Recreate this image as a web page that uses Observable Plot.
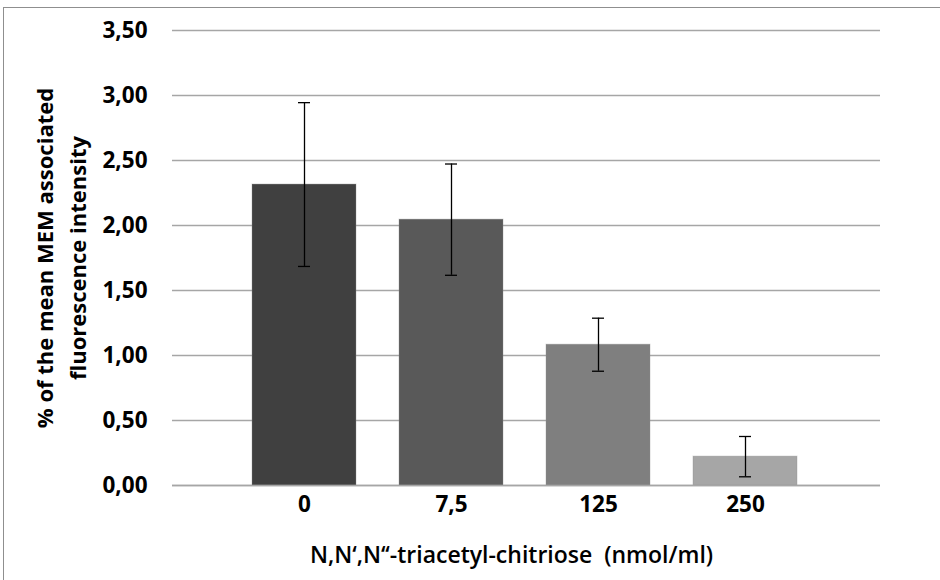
<!DOCTYPE html>
<html>
<head>
<meta charset="utf-8">
<script src="https://cdn.jsdelivr.net/npm/d3@7"></script>
<script src="https://cdn.jsdelivr.net/npm/@observablehq/plot@0.6"></script>
<style>
  html, body { margin: 0; padding: 0; background: white; overflow: hidden; }
  #frame { position: absolute; left: 3px; top: 7px; width: 1200px; height: 1200px; border: 1.5px solid #8f8f8f; }
  #chart { position: absolute; left: 0; top: 0; }
</style>
</head>
<body>
<div id="frame"></div>
<div id="chart"></div>
<script>
const categories = ["0", "7,5", "125", "250"];
const means = [2.315, 2.045, 1.083, 0.222];
const errors = [0.63, 0.428, 0.204, 0.155];
const barColors = ["#404040", "#595959", "#7f7f7f", "#a6a6a6"];
const yTicks = [0, 0.5, 1, 1.5, 2, 2.5, 3, 3.5];
const yLabel = "% of the mean MEM associated\nfluorescence intensity";
const xLabel = "N,N‘,N‘‘-triacetyl-chitriose  (nmol/ml)";

const data = categories.map((c, i) => ({
  cat: c, mean: means[i], lo: means[i] - errors[i], hi: means[i] + errors[i], color: barColors[i]
}));

const font = "'Open Sans', sans-serif";

const chart = Plot.plot({
  width: 940,
  height: 580,
  marginTop: 30,
  marginBottom: 95,
  marginLeft: 172,
  marginRight: 60,
  style: { fontFamily: font, background: "none", color: "#000" },
  x: { domain: categories, paddingInner: 0.294, paddingOuter: 0.54, align: 0.49, label: null },
  y: { domain: [0, 3.5], label: null },
  marks: [
    Plot.ruleY(yTicks, { stroke: "#a6a6a6", strokeWidth: 1.3 }),
    Plot.ruleX([0], { frameAnchor: "left", stroke: "#a6a6a6", strokeWidth: 1.3 }),
    Plot.barY(data, { x: "cat", y: "mean", fill: "color", stroke: "#8a8a8a", strokeOpacity: 0.35, strokeWidth: 1 }),
    Plot.ruleY([0], { stroke: "#a6a6a6", strokeWidth: 1.3 }),
    Plot.ruleX(data, { x: "cat", y1: "lo", y2: "hi", stroke: "#000", strokeWidth: 1.3 }),
    Plot.tickY(data, { x: "cat", y: "hi", stroke: "#000", strokeWidth: 1.3, inset: 46 }),
    Plot.tickY(data, { x: "cat", y: "lo", stroke: "#000", strokeWidth: 1.3, inset: 46 }),
    Plot.axisY(yTicks, {
      tickSize: 0, tickPadding: 25, fontSize: 22.5, fontWeight: "bold",
      tickFormat: d => d.toFixed(2).replace(".", ","), label: null
    }),
    Plot.axisX({ tickSize: 0, tickPadding: 11, fontSize: 22.5, fontWeight: "bold", label: null }),
    Plot.text([yLabel], {
      text: d => d, frameAnchor: "left", dx: -114, rotate: -90,
      textAnchor: "middle", lineAnchor: "middle",
      fontSize: 22, fontWeight: "bold", lineHeight: 1.5, fill: "#000"
    }),
    Plot.text([xLabel], {
      text: d => d, frameAnchor: "bottom", dy: 70, dx: -15,
      textAnchor: "middle", lineAnchor: "middle",
      fontSize: 23, fontWeight: 600, fill: "#000"
    })
  ]
});
document.getElementById("chart").appendChild(chart);
</script>
</body>
</html>
